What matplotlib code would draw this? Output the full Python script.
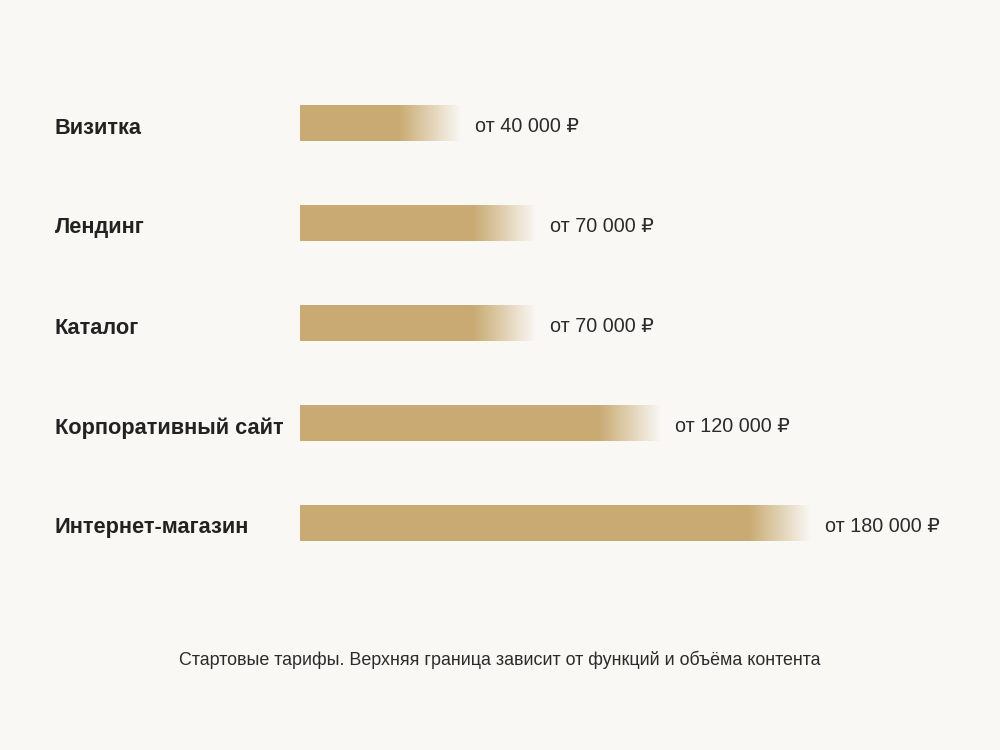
import numpy as np
import matplotlib
matplotlib.use("Agg")
import matplotlib.pyplot as plt
import matplotlib.transforms as mtransforms
from matplotlib.colors import to_rgb

# data (thousand rubles)
categories = ["Визитка", "Лендинг", "Каталог", "Корпоративный сайт", "Интернет-магазин"]
prices = [40, 70, 70, 120, 180]
price_labels = ["от 40 000 ₽", "от 70 000 ₽", "от 70 000 ₽", "от 120 000 ₽", "от 180 000 ₽"]
note = "Стартовые тарифы. Верхняя граница зависит от функций и объёма контента"

bg = "#f9f8f5"
gold = "#c8aa72"
fonts = ["Liberation Sans", "DejaVu Sans"]

fig = plt.figure(figsize=(10, 7.5), dpi=100, facecolor=bg)
ax = fig.add_axes([0, 0, 1, 1])
ax.set_facecolor(bg)
ax.axis("off")

tail = 24  # fade length in data units
c0 = np.array(to_rgb(gold))
c1 = np.array(to_rgb(bg))
t = np.linspace(0, 1, 200)
grad = (c0[None, :] * (1 - t[:, None]) + c1[None, :] * t[:, None])[None, :, :]

h = 0.36
for i, (cat, v, lab) in enumerate(zip(categories, prices, price_labels)):
    ax.barh(i, v, height=h, left=0, color=gold, edgecolor="none")
    ax.imshow(grad, extent=(v - 1, v + tail, i + h / 2, i - h / 2),
              aspect="auto", interpolation="bilinear", zorder=2)
    ax.text(v + tail + 6, i + 0.03, lab, ha="left", va="center", fontsize=14.2,
            color="#2b2b2b", family=fonts)

trans = mtransforms.blended_transform_factory(fig.transFigure, ax.transData)
for i, cat in enumerate(categories):
    ax.text(0.055, i + 0.05, cat, transform=trans, ha="left", va="center",
            fontsize=15.7, fontweight="bold", color="#222222", family=fonts)

fig.text(0.5, 1 - 660 / 750, note, ha="center", va="center", fontsize=12.9,
         color="#2b2b2b", family=fonts)

# 1 unit = 2.5 px, zero at x=300 px; rows 100 px apart
ax.set_xlim(-120, 280)
ax.set_ylim(6.27, -1.23)
fig.savefig("out.png", dpi=100, facecolor=bg)
